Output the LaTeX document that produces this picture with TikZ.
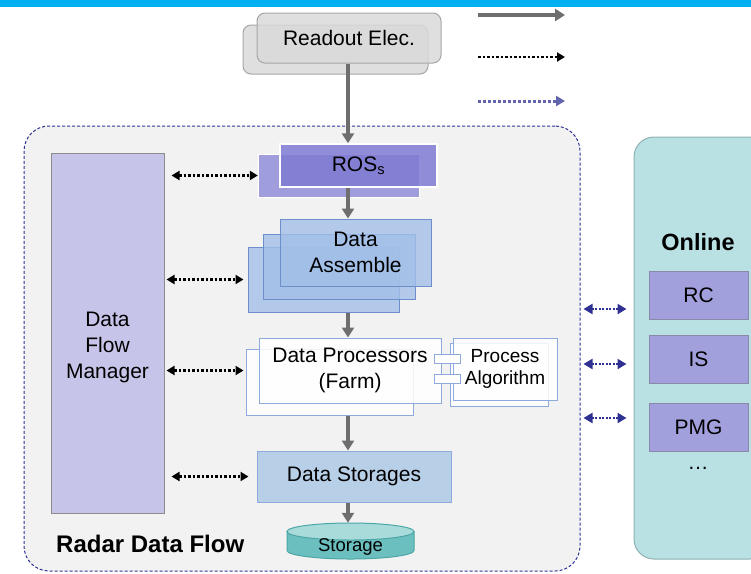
\documentclass[tikz,border=0pt]{standalone}
\usepackage{fontspec}
\setmainfont{Liberation Sans}
\usetikzlibrary{arrows.meta}

\definecolor{topbar}{HTML}{00B0F0}
\definecolor{rdfill}{HTML}{D9D9D9}
\definecolor{rdedge}{HTML}{A6A6A6}
\definecolor{panel}{HTML}{F2F2F2}
\definecolor{extblue}{HTML}{2E3192}
\definecolor{rosfill}{HTML}{7F7BD3}
\definecolor{asmfill}{HTML}{A2BFE8}
\definecolor{asmedge}{HTML}{6C8FCB}
\definecolor{dpedge}{HTML}{8EA9DB}
\definecolor{dsfill}{HTML}{B8CFE8}
\definecolor{cylbody}{HTML}{6CBFBF}
\definecolor{cyltop}{HTML}{A9DBDB}
\definecolor{cyledge}{HTML}{4DA6A6}
\definecolor{dfmfill}{HTML}{C6C5E9}
\definecolor{dfmedge}{HTML}{8C8C8C}
\definecolor{onfill}{HTML}{B9E1E3}
\definecolor{onedge}{HTML}{8FB0B2}
\definecolor{appfill}{HTML}{A29FDD}
\definecolor{appedge}{HTML}{8A8AA8}
\definecolor{flowgray}{HTML}{6E6E6E}

\begin{document}
\begin{tikzpicture}[x=1pt,y=-1pt,
    every node/.style={inner sep=0pt, align=center, font=\fontsize{21}{26}\selectfont},
    flow/.style={draw=flowgray, line width=4pt, -{Triangle[length=10pt,width=12pt]}},
    ctrl/.style={draw=black, line width=2.5pt, dash pattern=on 2.5pt off 2pt,
        {Triangle[length=8pt,width=9pt]}-{Triangle[length=8pt,width=9pt]}},
    ext/.style={draw=extblue, line width=2.5pt, dash pattern=on 2pt off 1.5pt,
        {Triangle[length=9pt,width=10pt]}-{Triangle[length=9pt,width=10pt]}}]

  \useasboundingbox (0,0) rectangle (751,573);
  \clip (0,0) rectangle (751,573);
  \fill[topbar] (0,0) rectangle (751,7);

  % panels
  \node (radar)  at (302,348.5) [draw=extblue, densely dashed, line width=1pt, fill=panel,
        rounded corners=25pt, minimum width=556, minimum height=445] {};
  \node (online) at (702,348) [draw=onedge, line width=1pt, fill=onfill,
        rounded corners=20pt, minimum width=136, minimum height=422] {};

  \node[anchor=west, font=\fontsize{24}{28}\bfseries\selectfont] (rdf) at (56,544) {Radar Data Flow};
  \node[font=\fontsize{23.5}{28}\bfseries\selectfont] (ontitle) at (698,242) {Online};

  % readout
  \begin{scope}[every node/.append style={draw=rdedge, fill=rdfill, fill opacity=.85, text opacity=1,
        rounded corners=8pt, line width=1pt}]
    \node (rd2) at (335.5,49.5) [minimum width=185, minimum height=49] {};
    \node (rd)  at (349,38)     [minimum width=184, minimum height=50] {Readout Elec.};
  \end{scope}

  % data flow chain
  \begin{scope}[every node/.append style={fill opacity=.85, text opacity=1}]
    \node (ros2) at (338.5,175.5) [fill=rosfill!85!white, draw=white, minimum width=161, minimum height=43] {};
    \node (ros)  at (358.5,165.5) [fill=rosfill, draw=white, line width=1.5pt,
          minimum width=157, minimum height=43] {ROS\textsubscript{s}};

    \node (asm3) at (323.5,279.5) [fill=asmfill, draw=asmedge, line width=1pt, fill opacity=.8, minimum width=151, minimum height=65] {};
    \node (asm2) at (339,266.5)   [fill=asmfill, draw=asmedge, line width=1pt, fill opacity=.8, minimum width=152, minimum height=65] {};
    \node (asm)  at (355.5,252.5) [fill=asmfill, draw=asmedge, line width=1pt, fill opacity=.8,
          minimum width=151, minimum height=67] {Data\\Assemble};

    \node (dp2) at (329.5,382) [fill=white, draw=dpedge, line width=1pt, minimum width=167, minimum height=66] {};
    \node (dp)  at (350,370.5) [fill=white, draw=dpedge, line width=1pt,
          minimum width=182, minimum height=65] {Data Processors\\(Farm)};

    \node (pa2) at (499,374.5) [fill=white, draw=dpedge, line width=1pt, minimum width=98, minimum height=63] {};
    \node (pa)  at (505,369)   [fill=white, draw=dpedge, line width=1pt, minimum width=104, minimum height=62,
          font=\fontsize{19}{22}\selectfont] {Process\\Algorithm};
    \node (port1) at (447,358.5) [fill=white, draw=dpedge, line width=1pt, fill opacity=1, minimum width=26, minimum height=9] {};
    \node (port2) at (447,378.5) [fill=white, draw=dpedge, line width=1pt, fill opacity=1, minimum width=26, minimum height=9] {};

    \node (ds) at (354,476.5) [fill=dsfill, draw=dpedge, line width=1pt, fill opacity=1,
          minimum width=194, minimum height=51] {Data Storages};
  \end{scope}

  % storage cylinder
  \node (st) at (350.5,541) [minimum width=127, minimum height=36] {};
  \filldraw[fill=cylbody, draw=cyledge, line width=1pt]
    (287,531.5) -- (287,550.5) arc[start angle=180, end angle=0, x radius=63.5, y radius=8.5] -- (414,531.5) -- cycle;
  \filldraw[fill=cyltop, draw=cyledge, line width=1pt] (350.5,531.5) ellipse[x radius=63.5, y radius=8.5];
  \node[font=\fontsize{18.5}{22}\selectfont] (stl) at (350.5,547) {Storage};

  % manager
  \node (dfm) at (107.5,333) [fill=dfmfill, draw=dfmedge, line width=1pt, minimum width=113, minimum height=360] {};
  \node (dfml) at (107.5,347) {Data\\Flow\\Manager};

  % online applications
  \begin{scope}[every node/.append style={fill=appfill, draw=appedge, line width=1pt, minimum width=99, minimum height=48}]
    \node (rc)  at (698.5,295.5) {RC};
    \node (is)  at (698.5,359)   {IS};
    \node (pmg) at (698.5,427)   {PMG};
  \end{scope}
  \node (more) at (698,468) {\ldots};

  % main flow
  \coordinate (ax) at (348,0);
  \begin{scope}[every edge/.style={flow}]
    \path (rd.south -| ax)   edge (ax |- ros.north);
    \path (ros.south -| ax)  edge (ax |- asm.north);
    \path (asm3.south -| ax) edge (ax |- dp.north);
    \path (dp2.south -| ax)  edge (ax |- ds.north);
    \path (ds.south -| ax)   edge (ax |- st.north);
  \end{scope}

  % control
  \begin{scope}[every edge/.style={ctrl, shorten <=7pt}]
    \path (dfm.east |- ros2.west) edge (ros2.west);
    \path (dfm.east |- asm3.west) edge[shorten >=4pt, shorten <=2pt] (asm3.west);
    \path (dfm.east |- dp.west)   edge[shorten >=2pt, shorten <=2pt] (dp2.west |- dp.west);
    \path (dfm.east |- ds.west)   edge[shorten >=8pt] (ds.west);
  \end{scope}

  % online links
  \coordinate (l1) at (605,309);
  \coordinate (l2) at (605,364);
  \coordinate (l3) at (605,418);
  \begin{scope}[every edge/.style={ext, shorten <=3pt, shorten >=7pt}]
    \path (radar.east |- l1) edge (online.west |- l1);
    \path (radar.east |- l2) edge (online.west |- l2);
    \path (radar.east |- l3) edge (online.west |- l3);
  \end{scope}

  % legend
  \coordinate (g1) at (478,15);  \coordinate (g1b) at (565,15);
  \coordinate (g2) at (478,57);  \coordinate (g2b) at (565,57);
  \coordinate (g3) at (478,101); \coordinate (g3b) at (565,101);
  \path (g1) edge[flow] (g1b);
  \path (g2) edge[draw=black, line width=2.5pt, dash pattern=on 2.5pt off 2pt, -{Triangle[length=8pt,width=9pt]}] (g2b);
  \path (g3) edge[draw=extblue!75, line width=3pt, dash pattern=on 3pt off 2pt, -{Triangle[length=9pt,width=10pt]}] (g3b);

\end{tikzpicture}
\end{document}
